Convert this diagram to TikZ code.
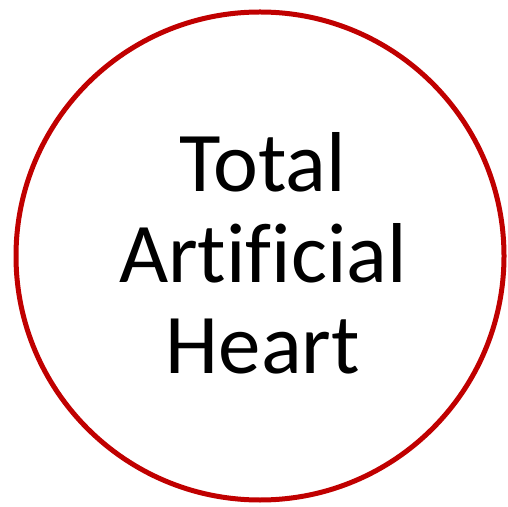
\documentclass[tikz,border=0pt]{standalone}
\usepackage{fontspec}
\setmainfont{Carlito}[Ligatures=NoCommon]
\definecolor{heartred}{HTML}{C00000}
\begin{document}
\begin{tikzpicture}[x=1pt, y=1pt, ring/.style={circle, draw=heartred, line width=5pt, minimum size=488pt, inner sep=0pt}, label/.style={align=center, font=\fontsize{85}{91}\selectfont}]
	\useasboundingbox (0,0) rectangle (508,506);
	\node[ring] (ring) at (260,250) {};
	\node[label] (name) at (263,253) {Total\\Artificial\\Heart};
\end{tikzpicture}
\end{document}
